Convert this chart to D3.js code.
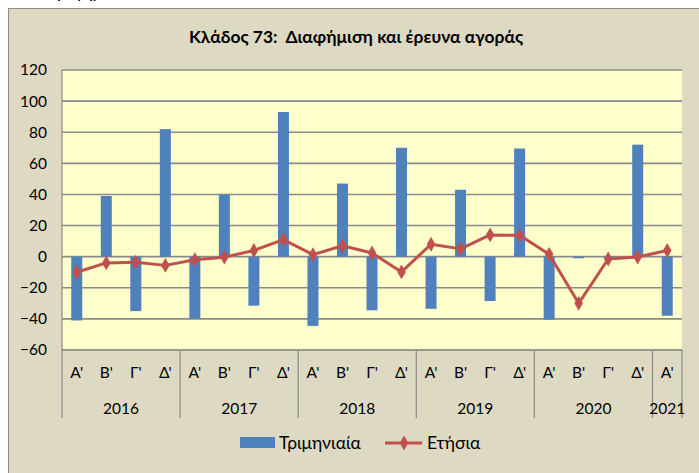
<!DOCTYPE html>
<html><head><meta charset="utf-8">
<script src="https://cdn.jsdelivr.net/npm/d3@7"></script>
<style>body{margin:0;background:#fff;} svg{display:block;font-family:Lato,"Open Sans",sans-serif;}</style>
</head><body><svg id="c" width="699" height="473"></svg>
<script>
const years = ["2016","2017","2018","2019","2020","2021"];
const quarterLabels = ["Α'","Β'","Γ'","Δ'","Α'","Β'","Γ'","Δ'","Α'","Β'","Γ'","Δ'","Α'","Β'","Γ'","Δ'","Α'","Β'","Γ'","Δ'","Α'"];
const yearOfCat = [0,0,0,0,1,1,1,1,2,2,2,2,3,3,3,3,4,4,4,4,5];
const quarterly = [-41,39,-35,82, -40,40,-31.5,93, -44.5,47,-34.5,70, -33.5,43,-28.5,69.5, -40.5,-1,0.3,72, -38];
const annual = [-10,-4,-3.6,-5.6, -2,-0.3,4,11, 1.3,7,2.4,-9.8, 8,5,14,13.7, 1.5,-30,-1.5,-0.2, 4];
const yTicks = [-60,-40,-20,0,20,40,60,80,100,120];
const seriesNames = ["Τριμηνιαία","Ετήσια"];
const title = "Κλάδος 73:  Διαφήμιση και έρευνα αγοράς";

const svg = d3.select("#c");
const W=699,H=473;
const L=62,R=682,T=70,B=350;
const cats = d3.range(quarterly.length);
const x = d3.scaleBand().domain(cats).range([L,R]).paddingInner(0);
const y = d3.scaleLinear().domain([-60,120]).range([B,T]);
const blue="#4F81BD", red="#C0504D";

// clipped text above (partly outside the picture, as in the reference)
svg.append("text").attr("x",52).attr("y",-1.5).attr("font-weight","bold").attr("font-size",14).attr("fill","#000").text("Γράφημα 73");
// outer area
svg.append("rect").attr("x",8.5).attr("y",8.5).attr("width",W).attr("height",H).attr("fill","#DDD9C3").attr("stroke","#8C8C8C").attr("stroke-width",1);
// title
svg.append("text").attr("x",356).attr("y",43).attr("text-anchor","middle").attr("font-weight","bold").attr("font-size",17.4).attr("fill","#000").attr("xml:space","preserve").style("white-space","pre").text(title);
// plot bg
svg.append("rect").attr("x",L).attr("y",T).attr("width",R-L).attr("height",B-T).attr("fill","#FFFFCC");
// grid
svg.append("g").selectAll("line").data(yTicks).join("line")
  .attr("x1",L).attr("x2",R).attr("y1",d=>y(d)).attr("y2",d=>y(d))
  .attr("stroke","#8A8A8A").attr("stroke-width",1.6);
// y axis
const ya = svg.append("g").attr("transform",`translate(${L},0)`).call(d3.axisLeft(y).tickValues(yTicks).tickSize(0).tickPadding(15));
ya.select(".domain").remove();
ya.selectAll("text").attr("font-size",15.5).attr("font-family","Lato, sans-serif").attr("fill","#000");
svg.append("line").attr("x1",L).attr("x2",L).attr("y1",T).attr("y2",B).attr("stroke","#8A8A8A").attr("stroke-width",1.2);
// bars
const bw = 11;
svg.append("g").selectAll("rect").data(cats).join("rect")
  .attr("x",i=>x(i)+x.bandwidth()/2-bw/2).attr("width",bw)
  .attr("y",i=>y(Math.max(0,quarterly[i]))).attr("height",i=>Math.max(1,Math.abs(y(quarterly[i])-y(0))))
  .attr("fill",blue);
// line
const line = d3.line().x(i=>x(i)+x.bandwidth()/2).y(i=>y(annual[i]));
svg.append("path").datum(cats).attr("d",line).attr("fill","none").attr("stroke",red).attr("stroke-width",3).attr("stroke-linejoin","round");
const diamond = d3.symbol().type(d3.symbolDiamond).size(64);
svg.append("g").selectAll("path").data(cats).join("path")
  .attr("transform",i=>`translate(${x(i)+x.bandwidth()/2},${y(annual[i])})`).attr("d",diamond).attr("fill",red);
// category axis
const xa = svg.append("g").attr("transform",`translate(0,${B})`).call(d3.axisBottom(x).tickFormat(i=>quarterLabels[i]).tickSize(0).tickPadding(17));
xa.select(".domain").remove();
xa.selectAll("text").attr("font-size",15.5).attr("font-family","Lato, sans-serif").attr("fill","#000");
svg.append("line").attr("x1",L).attr("x2",R).attr("y1",B).attr("y2",B).attr("stroke","#8A8A8A").attr("stroke-width",1.2);
// year groups
const groups = years.map((yr,k)=>{const idx=cats.filter(i=>yearOfCat[i]===k);return {yr,x0:x(idx[0]),x1:x(idx[idx.length-1])+x.bandwidth()};});
const bounds = [L].concat(groups.map(g=>g.x1));
svg.append("g").selectAll("line").data(bounds).join("line")
  .attr("x1",d=>d).attr("x2",d=>d).attr("y1",B).attr("y2",418).attr("stroke","#8A8A8A").attr("stroke-width",1.2);
svg.append("g").selectAll("text").data(groups).join("text")
  .attr("x",g=>(g.x0+g.x1)/2).attr("y",414).attr("text-anchor","middle").attr("font-size",15.5).attr("fill","#000").text(g=>g.yr);
// legend
const lg = svg.append("g");
lg.append("rect").attr("x",240).attr("y",437).attr("width",35).attr("height",11).attr("fill",blue);
lg.append("text").attr("x",279).attr("y",449).attr("font-size",17.5).attr("fill","#000").text(seriesNames[0]);
lg.append("line").attr("x1",385).attr("x2",422).attr("y1",443).attr("y2",443).attr("stroke",red).attr("stroke-width",3);
lg.append("path").attr("transform","translate(404,443)").attr("d",diamond).attr("fill",red);
lg.append("text").attr("x",427).attr("y",449).attr("font-size",17.5).attr("fill","#000").text(seriesNames[1]);
</script></body></html>
